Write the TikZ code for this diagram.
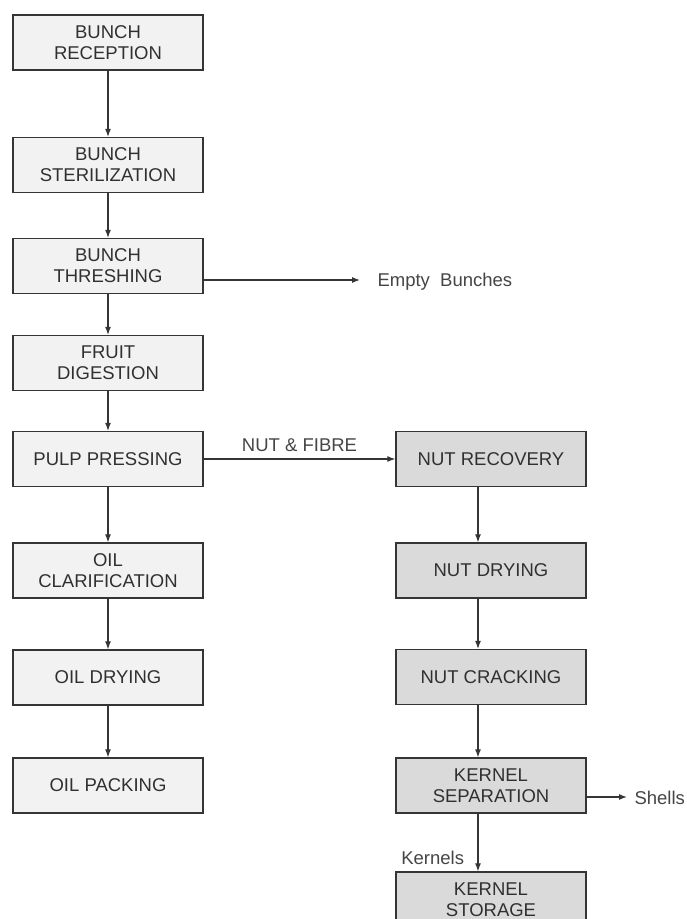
\documentclass[tikz,border=0pt]{standalone}
\usepackage{fontspec}
\setmainfont{Liberation Sans}
\usetikzlibrary{arrows.meta,positioning}
\definecolor{boxline}{HTML}{353535}
\definecolor{boxtext}{HTML}{303030}
\definecolor{lbltext}{HTML}{454545}
\definecolor{leftfill}{HTML}{F2F2F2}
\definecolor{rightfill}{HTML}{DADADA}

\begin{document}
\begin{tikzpicture}[x=1pt, y=1pt, on grid, font=\fontsize{18.5}{21}\selectfont,
	box/.style={draw=boxline, line width=1.3pt, fill=leftfill, text=boxtext, minimum width=190pt, minimum height=55pt, align=center, inner sep=2pt},
	nutbox/.style={box, fill=rightfill},
	flow/.style={draw=boxline, line width=1.2pt, -{Latex[length=8pt,width=6pt]}},
	lbl/.style={text=lbltext}]
	\useasboundingbox (0,0) rectangle (686,-919);

	% oil line
	\node[box] (recv) at (108,-42.5) {BUNCH\\RECEPTION};
	\node[box] (steril) [below=122.5pt of recv] {BUNCH\\STERILIZATION};
	\node[box] (thresh) [below=101pt of steril] {BUNCH\\THRESHING};
	\node[box] (digest) [below=97pt of thresh] {FRUIT\\DIGESTION};
	\node[box] (press) [below=96pt of digest] {PULP PRESSING};
	\node[box] (clarif) [below=111.5pt of press] {OIL\\CLARIFICATION};
	\node[box] (oildry) [below=107pt of clarif] {OIL DRYING};
	\node[box] (pack) [below=108pt of oildry] {OIL PACKING};

	% nut line
	\node[nutbox] (nutrec) [right=383pt of press] {NUT RECOVERY};
	\node[nutbox] (nutdry) [below=111.5pt of nutrec] {NUT DRYING};
	\node[nutbox] (crack) [below=106.5pt of nutdry] {NUT CRACKING};
	\node[nutbox] (ksep) [below=108.5pt of crack] {KERNEL\\SEPARATION};
	\node[nutbox] (kstore) [below=114pt of ksep] {KERNEL\\STORAGE};

	% side outputs
	\coordinate (eb) at (360,-280);
	\node[lbl, anchor=west] (empty) at (374,-282) {Empty\ \ Bunches};
	\coordinate (sh) at (627,-797);
	\node[lbl, anchor=west] (shells) at (631,-798) {Shells};

	\path[every edge/.style={flow}]
		(recv) edge (steril)
		(steril) edge (thresh)
		(thresh) edge (digest)
		(digest) edge (press)
		(press) edge (clarif)
		(clarif) edge (oildry)
		(oildry) edge (pack)
		(press) edge node[lbl, above=3pt] {NUT \& FIBRE} (nutrec)
		([xshift=-13pt]nutrec.south) edge ([xshift=-13pt]nutdry.north)
		([xshift=-13pt]nutdry.south) edge ([xshift=-13pt]crack.north)
		([xshift=-13pt]crack.south) edge ([xshift=-13pt]ksep.north)
		([xshift=-13pt]ksep.south) edge node[lbl, left, pos=0.76, xshift=-10pt] {Kernels} ([xshift=-13pt]kstore.north)
		(thresh.east |- eb) edge (eb)
		(ksep.east |- sh) edge (sh)
	;
\end{tikzpicture}
\end{document}
